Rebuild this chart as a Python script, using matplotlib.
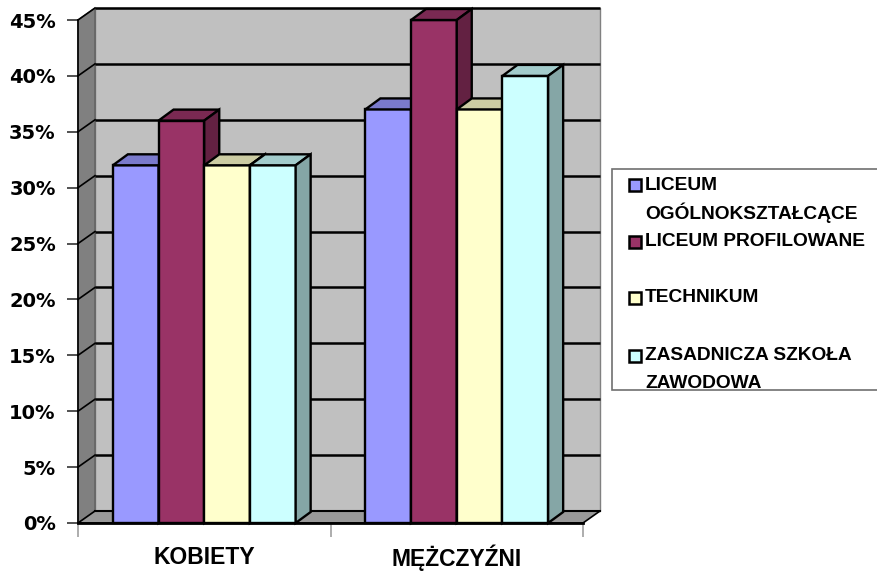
import matplotlib
matplotlib.use("Agg")
import matplotlib.pyplot as plt
from matplotlib.patches import Polygon, Rectangle
import numpy as np

# ---- data ----
categories = ["KOBIETY", "MĘŻCZYŹNI"]
series_names = ["LICEUM\nOGÓLNOKSZTAŁCĄCE", "LICEUM PROFILOWANE", "TECHNIKUM",
                "ZASADNICZA SZKOŁA\nZAWODOWA"]
liceum_ogolno = [32, 37]
liceum_profil = [36, 45]
technikum = [32, 37]
zasadnicza = [32, 40]
series_values = [liceum_ogolno, liceum_profil, technikum, zasadnicza]
y_ticks = [0, 5, 10, 15, 20, 25, 30, 35, 40, 45]

colors = ["#9999FF", "#993366", "#FFFFCC", "#CCFFFF"]

W, H = 877, 574
fig = plt.figure(figsize=(W / 100, H / 100), dpi=100)
fig.patch.set_facecolor("white")

# front plane in pixels (from top-left)
x0p, x1p, y0p, y1p = 78, 583, 523, 20
ax = fig.add_axes([x0p / W, (H - y0p) / H, (x1p - x0p) / W, (y0p - y1p) / H])
ax.set_xlim(0, len(categories))
ax.set_ylim(0, max(y_ticks))
ax.set_facecolor("none")
for s in ["top", "right"]:
    ax.spines[s].set_visible(False)
ax.spines["left"].set_color("#000000")
ax.spines["left"].set_linewidth(1.2)
ax.spines["bottom"].set_color("#000000")
ax.spines["bottom"].set_linewidth(2)
ax.spines["left"].set_zorder(20)
ax.spines["bottom"].set_zorder(20)

pxx = (x1p - x0p) / len(categories)
pxy = (y0p - y1p) / max(y_ticks)
DX, DY = 17 / pxx, 12 / pxy        # wall depth
BDX, BDY = 15 / pxx, 11 / pxy      # bar depth
ymax = max(y_ticks)
nc = len(categories)

def shade(c, f):
    r, g, b = matplotlib.colors.to_rgb(c)
    return (r * f, g * f, b * f)

# walls and floor
ax.add_patch(Polygon([(DX, DY), (nc + DX, DY), (nc + DX, ymax + DY), (DX, ymax + DY)],
                     closed=True, facecolor="#C0C0C0", edgecolor="#808080", lw=1,
                     clip_on=False, zorder=1))
ax.add_patch(Polygon([(0, 0), (DX, DY), (DX, ymax + DY), (0, ymax)],
                     closed=True, facecolor="#808080", edgecolor="#606060", lw=1,
                     clip_on=False, zorder=1))
ax.add_patch(Polygon([(0, 0), (nc, 0), (nc + DX, DY), (DX, DY)],
                     closed=True, facecolor="#999999", edgecolor="#000000", lw=1.2,
                     clip_on=False, zorder=2))
for v in y_ticks[1:]:
    ax.plot([DX, nc + DX], [v + DY, v + DY], color="black", lw=1.8,
            clip_on=False, zorder=3, solid_capstyle="butt")
    ax.plot([0, DX], [v, v + DY], color="black", lw=1.2, clip_on=False, zorder=3)
ax.plot([DX, nc + DX], [DY, DY], color="black", lw=1.5, clip_on=False, zorder=3)

# bars
bw = 45.7 / pxx
ns = len(series_values)
for ci in range(nc):
    center = ci + 0.5
    for si in range(ns):
        v = series_values[si][ci]
        l = center + (si - ns / 2) * bw
        r = l + bw
        c = colors[si]
        kw = dict(closed=True, edgecolor="black", lw=1.7, clip_on=False, zorder=5 + si)
        ax.add_patch(Polygon([(l, 0), (r, 0), (r, v), (l, v)], facecolor=c, **kw))
        ax.add_patch(Polygon([(l, v), (r, v), (r + BDX, v + BDY), (l + BDX, v + BDY)],
                             facecolor=shade(c, 0.8), **kw))
        ax.add_patch(Polygon([(r, 0), (r + BDX, BDY), (r + BDX, v + BDY), (r, v)],
                             facecolor=shade(c, 0.65), **kw))

# y axis ticks
ax.set_yticks(y_ticks)
ax.set_yticklabels([f"{v}%" for v in y_ticks], fontsize=14, fontweight="bold",
                   family="DejaVu Sans")
ax.tick_params(axis="y", direction="out", length=8, width=1.2, color="#333333", pad=8)

# x axis
ax.set_xticks(range(nc + 1))
ax.set_xticklabels([""] * (nc + 1))
ax.tick_params(axis="x", direction="out", length=10, width=1.2, color="#A0A0A0")
for ci, cat in enumerate(categories):
    ax.text(ci + 0.5, -35 / pxy, cat, ha="center", va="center", fontsize=16.5,
            fontweight="bold", family="Liberation Sans", clip_on=False)

# legend (manual, Excel style)
def fy(p):
    return (H - p) / H

def fx(p):
    return p / W

fig.add_artist(Rectangle((fx(612), fy(390)), fx(880) - fx(612), fy(169) - fy(390),
                         transform=fig.transFigure, facecolor="white",
                         edgecolor="#707070", lw=1.2))
leg_y = [185, 242, 298, 356]
for si in range(ns):
    yc = leg_y[si]
    fig.add_artist(Rectangle((fx(629), fy(yc + 6)), fx(12), 12 / H,
                             transform=fig.transFigure, facecolor=colors[si],
                             edgecolor="black", lw=1.8))
    lines = series_names[si].split("\n")
    for li, t in enumerate(lines):
        fig.text(fx(645), fy(yc + li * 28), t, ha="left", va="center",
                 fontsize=13.8, fontweight="bold", family="Liberation Sans")

fig.savefig("out.png", dpi=100)
